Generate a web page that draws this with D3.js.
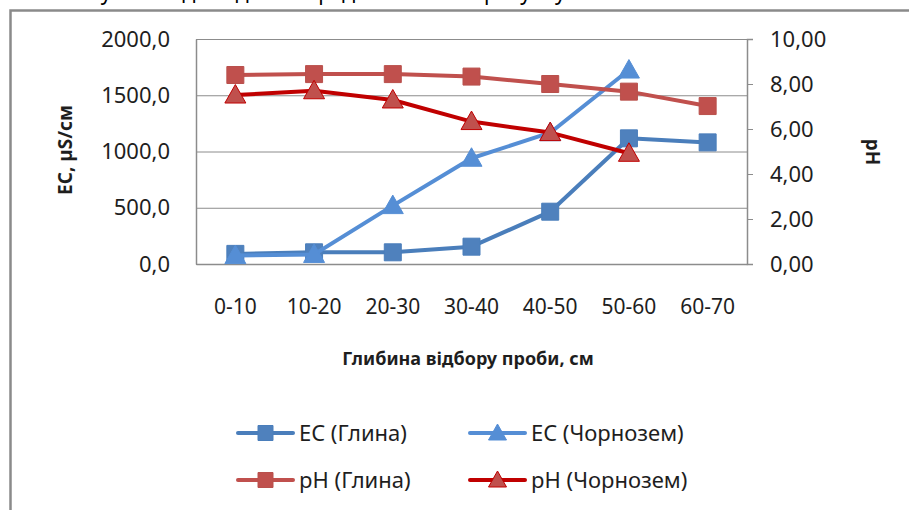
<!DOCTYPE html>
<html>
<head>
<meta charset="utf-8">
<script src="https://cdn.jsdelivr.net/npm/d3@7"></script>
<style>
  html, body { margin: 0; padding: 0; background: #fff; }
  svg { display: block; }
  text { font-family: "Noto Sans", "Open Sans", sans-serif; fill: #1e1e1e; }
</style>
</head>
<body>
<svg id="chart" width="909" height="510"></svg>
<script>
// Sampling depth intervals, cm
const depths = ["0-10", "10-20", "20-30", "30-40", "40-50", "50-60", "60-70"];

// Electrical conductivity, µS/cm
const ecClay  = [90, 104, 104, 154, 465, 1117, 1081];
const ecChern = [75, 85, 519, 940, 1167, 1724, null];

// pH
const phClay  = [8.40, 8.44, 8.44, 8.33, 8.00, 7.66, 7.02];
const phChern = [7.51, 7.70, 7.29, 6.33, 5.84, 4.92, null];

// Axis tick values
const ecTicks = [0, 500, 1000, 1500, 2000];
const phTicks = [0, 2, 4, 6, 8, 10];

const legendLabels = ["EC (Глина)", "EC (Чорнозем)", "pH (Глина)", "pH (Чорнозем)"];

const svg = d3.select("#chart");
const W = 909, H = 510;

// Line of the surrounding document text above the chart, running off the top edge
const docLine = svg.append("g")
  .style("font-family", "'Liberation Serif', serif")
  .style("font-size", "21px");
docLine.append("text")
  .attr("x", 478).attr("y", 0)
  .attr("text-anchor", "end")
  .style("fill", "#000")
  .text("Результати досліджень представлено на");
docLine.append("text")
  .attr("x", 484).attr("y", 0)
  .style("fill", "#000")
  .text("рисунку 1.");

// Chart frame
svg.append("rect")
  .attr("x", 10.5).attr("y", 10.5)
  .attr("width", W + 20).attr("height", H + 20)
  .attr("fill", "#fff")
  .attr("stroke", "#8a8a8a")
  .attr("stroke-width", 2.5);

const plot = { left: 196, right: 747, top: 39, bottom: 264 };

const locale = d3.formatLocale({ decimal: ",", thousands: "", grouping: [3], currency: ["", ""] });
const fmtEC = locale.format(".1f");
const fmtPH = locale.format(".2f");

const x = d3.scaleBand().domain(depths).range([plot.left, plot.right]).padding(0);
const cx = d => x(d) + x.bandwidth() / 2;
const yL = d3.scaleLinear().domain([0, 2000]).range([plot.bottom, plot.top]);
const yR = d3.scaleLinear().domain([0, 10]).range([plot.bottom, plot.top]);

const gridColor = "#8c8c8c";

// Horizontal gridlines from the EC axis
svg.append("g")
  .attr("transform", `translate(${plot.left},0)`)
  .call(d3.axisLeft(yL).tickValues(ecTicks).tickSize(-(plot.right - plot.left)).tickFormat(""))
  .call(g => g.select(".domain").remove())
  .call(g => g.selectAll("line").attr("stroke", gridColor).attr("stroke-width", 1));

// Left axis (EC)
svg.append("g")
  .attr("transform", `translate(${plot.left},0)`)
  .call(d3.axisLeft(yL).tickValues(ecTicks).tickSize(0).tickPadding(26).tickFormat(fmtEC))
  .call(g => g.select(".domain").attr("stroke", gridColor).attr("stroke-width", 1.5))
  .call(g => g.selectAll("text").style("font-size", "22px").attr("fill", "#1e1e1e"));

// Right axis (pH)
svg.append("g")
  .attr("transform", `translate(${plot.right},0)`)
  .call(d3.axisRight(yR).tickValues(phTicks).tickSizeOuter(0).tickSize(6).tickPadding(17).tickFormat(fmtPH))
  .call(g => g.select(".domain").attr("stroke", gridColor).attr("stroke-width", 1.5))
  .call(g => g.selectAll("line").attr("stroke", gridColor))
  .call(g => g.selectAll("text").style("font-size", "22px").attr("fill", "#1e1e1e"));

// Bottom axis (depth)
svg.append("g")
  .attr("transform", `translate(0,${plot.bottom})`)
  .call(d3.axisBottom(x).tickSize(0).tickPadding(35))
  .call(g => g.select(".domain").attr("stroke", gridColor).attr("stroke-width", 1.5))
  .call(g => g.selectAll("text").style("font-size", "21px").attr("fill", "#1e1e1e"));

// Axis titles
svg.append("text")
  .attr("transform", `translate(72,150) rotate(-90)`)
  .attr("text-anchor", "middle")
  .style("font-size", "19px").style("font-weight", "bold")
  .text("EC, µS/см");
svg.append("text")
  .attr("transform", `translate(866,152) rotate(90)`)
  .attr("text-anchor", "middle")
  .style("font-size", "19px").style("font-weight", "bold")
  .text("pH");
svg.append("text")
  .attr("x", 468).attr("y", 365)
  .attr("text-anchor", "middle")
  .style("font-size", "18px").style("font-weight", "bold")
  .text("Глибина відбору проби, см");

// Series definitions
const series = [
  { values: ecClay,  y: yL, line: "#4a7ebb", fill: "#4f81bd", stroke: "#4a7ebb", shape: "square" },
  { values: ecChern, y: yL, line: "#558ed5", fill: "#558ed5", stroke: "#558ed5", shape: "triangle" },
  { values: phClay,  y: yR, line: "#c0504d", fill: "#c0504d", stroke: "#b9504c", shape: "square" },
  { values: phChern, y: yR, line: "#c00000", fill: "#c0504d", stroke: "#c00000", shape: "triangle" }
];

const squarePath = d3.symbol().type(d3.symbolSquare).size(17 * 17);
const trianglePath = () => "M0,-10.5L10.5,8L-10.5,8Z";

series.forEach(s => {
  const pts = depths.map((d, i) => ({ d, v: s.values[i] })).filter(p => p.v != null);
  const line = d3.line().x(p => cx(p.d)).y(p => s.y(p.v));
  const g = svg.append("g");
  g.append("path")
    .attr("d", line(pts))
    .attr("fill", "none")
    .attr("stroke", s.line)
    .attr("stroke-width", 4)
    .attr("stroke-linejoin", "round");
  g.selectAll("path.m").data(pts).join("path")
    .attr("class", "m")
    .attr("transform", p => `translate(${cx(p.d)},${s.y(p.v)})`)
    .attr("d", s.shape === "square" ? squarePath() : trianglePath())
    .attr("fill", s.fill)
    .attr("stroke", s.stroke)
    .attr("stroke-width", 1);
});

// Legend
const legendPos = [
  { x: 238, y: 433 }, { x: 470, y: 433 },
  { x: 238, y: 480 }, { x: 470, y: 480 }
];
series.forEach((s, i) => {
  const p = legendPos[i];
  const g = svg.append("g").attr("transform", `translate(${p.x},${p.y})`);
  g.append("line")
    .attr("x1", 0).attr("x2", 55).attr("y1", 0).attr("y2", 0)
    .attr("stroke", s.line).attr("stroke-width", 4).attr("stroke-linecap", "round");
  g.append("path")
    .attr("transform", "translate(27.5,0)")
    .attr("d", s.shape === "square" ? d3.symbol().type(d3.symbolSquare).size(15 * 15)() : "M0,-9L9,7L-9,7Z")
    .attr("fill", s.fill).attr("stroke", s.stroke).attr("stroke-width", 1);
  g.append("text")
    .attr("x", 61).attr("y", 0).attr("dy", "0.35em")
    .style("font-size", "22px")
    .text(legendLabels[i]);
});
</script>
</body>
</html>
